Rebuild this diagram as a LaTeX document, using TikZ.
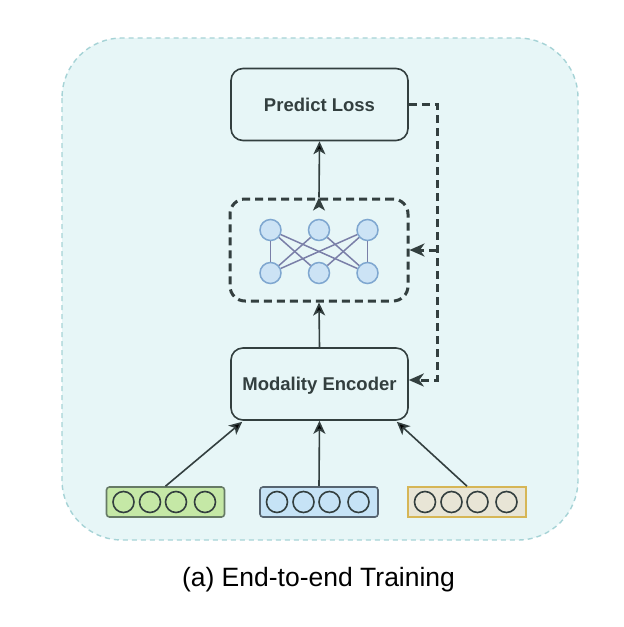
\documentclass[tikz,border=0pt]{standalone}
\usepackage{fontspec}
\setmainfont{Liberation Sans}
\usepackage{tikz}
\usetikzlibrary{arrows.meta,calc,positioning}
\definecolor{panelfill}{HTML}{E7F6F7}
\definecolor{paneldraw}{HTML}{A6D3D6}
\definecolor{ink}{HTML}{333F3F}
\definecolor{neurfill}{HTML}{CCE3F5}
\definecolor{neurdraw}{HTML}{7FA7D0}
\definecolor{synapse}{HTML}{7A7FA8}
\definecolor{greenfill}{HTML}{C5E8A6}
\definecolor{greendraw}{HTML}{667A66}
\definecolor{bluefill}{HTML}{C6E3F6}
\definecolor{bluedraw}{HTML}{566470}
\definecolor{yellowfill}{HTML}{E8E5D6}
\definecolor{yellowdraw}{HTML}{D6B656}
\tikzset{
  block/.style={draw=ink,line width=1.6pt,rounded corners=12pt,minimum width=177pt,minimum height=72pt,
    font=\fontsize{18.5}{22}\selectfont\bfseries,text=ink,text height=13pt,text depth=0pt},
  neuron/.style={circle,draw=neurdraw,fill=neurfill,line width=1.5pt,minimum size=21pt,inner sep=0pt},
  vecbox/.style={draw,line width=1.6pt,rounded corners=3pt,minimum width=118pt,minimum height=30pt},
  cell/.style={circle,draw=ink,line width=1.6pt,minimum size=21pt,inner sep=0pt},
  fb/.style={draw=ink,line width=3pt,dash pattern=on 8pt off 5pt}
}
\begin{document}
\begin{tikzpicture}[x=1pt,y=-1pt]
\useasboundingbox (0,0) rectangle (624,627);
\draw[fill=panelfill,draw=paneldraw,line width=1.4pt,dash pattern=on 5pt off 4pt,rounded corners=60pt]
  (62,38) rectangle (578,540);
\node[block] (loss) at (319.5,104.5) {Predict Loss};
\node[fb,rounded corners=15pt,minimum width=178pt,minimum height=102pt] (net) at (319,250) {};
\node[block] (enc) at (319.5,384) {Modality Encoder};
% small network inside the dashed box
\foreach \i/\x in {1/270.5,2/319,3/367.5}{
  \node[neuron] (t\i) at (\x,230) {};
  \node[neuron] (b\i) at (\x,273) {};
}
\path[draw=synapse,line width=1.5pt]
(t1) edge (b1) (t1) edge (b2) (t1) edge (b3)
(t2) edge (b1) (t2) edge (b3)
(t3) edge (b1) (t3) edge (b2) (t3) edge (b3);
% input vectors
\node[vecbox,fill=greenfill,draw=greendraw] (vg) at (165.5,502) {};
\node[vecbox,fill=bluefill,draw=bluedraw] (vb) at (319,502) {};
\node[vecbox,fill=yellowfill,draw=yellowdraw,rounded corners=0pt] (vy) at (467,502) {};
\foreach \v in {vg,vb,vy}{
  \foreach \k/\dx in {1/-42,2/-15.5,3/10.5,4/39.5}
    \node[cell] (\v\k) at ($(\v.center)+(\dx,0)$) {};
}
\path[-{Stealth[length=13pt,width=12pt,inset=3.5pt]},draw=ink,line width=1.6pt]
(vg.north) edge ($(enc.south west)+(12,1)$)
(vb.north) edge (enc.south)
(vy.north) edge ($(enc.south east)+(-12,1)$)
(enc.north) edge (net.south)
(net.north) edge (loss.south);
% feedback
\coordinate (split) at (437,250);
\draw[fb,-{Stealth[length=15pt,width=13pt,inset=4.5pt]}] (loss.east) -| (split) |- ($(enc.east)+(0,-4)$);
\draw[fb,-{Stealth[length=15pt,width=13pt,inset=4.5pt]}] (split) -- (net.east);
\node[anchor=base,font=\fontsize{26.5}{30}\selectfont] (cap) at (318.5,586) {(a) End-to-end Training};
\end{tikzpicture}
\end{document}
